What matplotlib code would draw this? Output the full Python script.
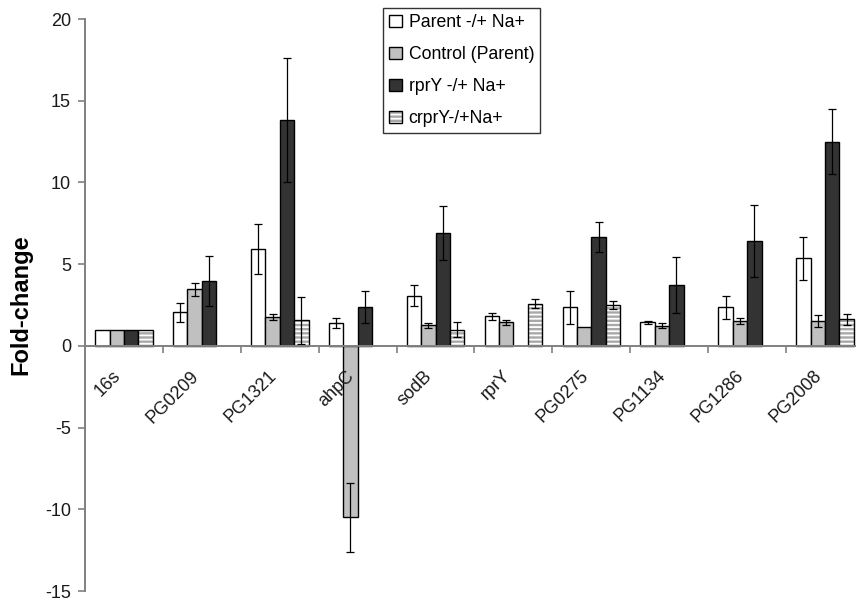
import numpy as np
import matplotlib
matplotlib.use("Agg")
import matplotlib.pyplot as plt

plt.rcParams['font.family'] = ['Liberation Sans', 'DejaVu Sans']
plt.rcParams['axes.unicode_minus'] = False
plt.rcParams['hatch.linewidth'] = 1.3

nan = np.nan
genes = ['16s', 'PG0209', 'PG1321', 'ahpC', 'sodB', 'rprY',
         'PG0275', 'PG1134', 'PG1286', 'PG2008']

parent = [1.0, 2.05, 5.93, 1.41, 3.06, 1.82, 2.35, 1.43, 2.35, 5.35]
parent_err = [0.0, 0.6, 1.53, 0.3, 0.65, 0.22, 1.0, 0.08, 0.71, 1.32]
control = [1.0, 3.45, 1.77, -10.5, 1.27, 1.43, 1.16, 1.22, 1.51, 1.53]
control_err = [0.0, 0.4, 0.2, 2.1, 0.15, 0.18, 0.0, 0.15, 0.17, 0.35]
rpry = [1.0, 3.96, 13.8, 2.39, 6.91, nan, 6.67, 3.71, 6.42, 12.5]
rpry_err = [0.0, 1.55, 3.8, 0.97, 1.63, nan, 0.91, 1.72, 2.2, 1.98]
crpry = [1.0, nan, 1.57, nan, 1.0, 2.59, 2.49, nan, nan, 1.63]
crpry_err = [0.0, nan, 1.43, nan, 0.47, 0.25, 0.24, nan, nan, 0.33]

series = [
    ('Parent -/+ Na+', parent, parent_err, 'white', None),
    ('Control (Parent)', control, control_err, '#c0c0c0', None),
    ('rprY -/+ Na+', rpry, rpry_err, '#333333', None),
    ('crprY-/+Na+', crpry, crpry_err, '#a8a8a8', '----'),
]

fig = plt.figure(figsize=(8.56, 6.01), dpi=100)
ax = fig.add_axes([85 / 856, 10 / 601, 779 / 856, 572 / 601])

centers = np.arange(len(genes)) + 0.5
w = 0.185
offsets = [-1.5 * w, -0.5 * w, 0.5 * w, 1.5 * w]

handles = []
for (name, vals, errs, col, hatch), off in zip(series, offsets):
    vals = np.array(vals, dtype=float)
    errs = np.array(errs, dtype=float)
    ok = ~np.isnan(vals)
    x = centers[ok] + off
    if hatch:
        # white stripes: fill layer with white hatch, then black outline
        fill = ax.bar(x, vals[ok], width=w, facecolor=col, edgecolor='white',
                      hatch=hatch, linewidth=0, zorder=2)
        edge = ax.bar(x, vals[ok], width=w, facecolor='none',
                      edgecolor='black', linewidth=1.0, zorder=2.1)
        handles.append((fill, edge))
    else:
        bars = ax.bar(x, vals[ok], width=w, facecolor=col, edgecolor='black',
                      linewidth=1.0, zorder=2)
        handles.append(bars)
    e_ok = ok & (np.nan_to_num(errs) > 0)
    ax.errorbar(centers[e_ok] + off, vals[e_ok], yerr=errs[e_ok], fmt='none',
                ecolor='black', elinewidth=0.9, capsize=3, capthick=0.9,
                zorder=3)

ax.set_xlim(0, len(genes))
ax.set_ylim(-15, 20)
ax.set_yticks(np.arange(-15, 21, 5))
ax.tick_params(axis='y', direction='out', length=5, width=1.2, color='#808080',
               labelsize=13, labelcolor='#1a1a1a', pad=5)

ax.spines['top'].set_visible(False)
ax.spines['right'].set_visible(False)
ax.spines['bottom'].set_position(('data', 0))
for s in ('left', 'bottom'):
    ax.spines[s].set_color('#808080')
    ax.spines[s].set_linewidth(1.4)
ax.spines['bottom'].set_zorder(4)

ax.set_xticks(np.arange(1, len(genes)))
ax.set_xticklabels([])
ax.tick_params(axis='x', direction='out', length=5, width=1.2, color='#808080')

for c, g in zip(centers, genes):
    ax.annotate(g, xy=(c, 0), xycoords='data', xytext=(-8.5, -15.5),
                textcoords='offset points', rotation=45, ha='right', va='top',
                rotation_mode='anchor', fontsize=13, color='#1a1a1a')

ax.set_ylabel('Fold-change', fontsize=17, fontweight='bold')
ax.yaxis.set_label_coords(-0.067, 0.5)

labels = [s[0] for s in series]
leg = ax.legend(handles, labels, loc='upper left',
                bbox_to_anchor=(383 / 856, 1 - 8 / 601),
                bbox_transform=fig.transFigure, borderaxespad=0,
                fontsize=12.7, handlelength=0.7, handleheight=0.7,
                handletextpad=0.4, labelspacing=0.85, borderpad=0.35,
                fancybox=False, framealpha=1)
leg.get_frame().set_edgecolor('#333333')
leg.get_frame().set_linewidth(1.0)

fig.savefig('out.png', dpi=100)
